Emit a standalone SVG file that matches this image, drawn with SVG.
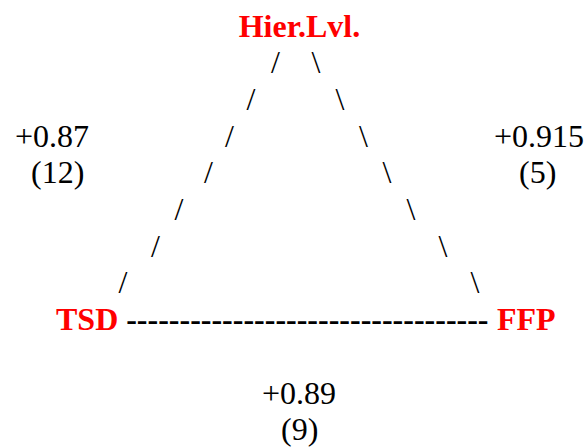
<svg xmlns="http://www.w3.org/2000/svg" width="587" height="447" viewBox="0 0 587 447">
<style>
text{font-family:"Liberation Serif","Times New Roman",serif;font-size:32px;fill:#000}
.node{font-weight:bold;fill:#ff0000}
.sl{text-anchor:middle}
.dash{font-weight:bold}
</style>
<rect width="587" height="447" fill="#fff"/>
<g id="node-hier"><text class="node" x="238.7" y="36.5">Hier.Lvl.</text></g>
<g id="node-tsd"><text class="node" x="56" y="330.1">TSD</text></g>
<g id="node-ffp"><text class="node" x="497" y="330.1">FFP</text></g>
<g id="connectors">
<g id="edge-hier-tsd">
<text class="sl" x="275.5" y="73.2">/</text>
<text class="sl" x="251" y="109.9">/</text>
<text class="sl" x="229.5" y="146.6">/</text>
<text class="sl" x="208.5" y="183.3">/</text>
<text class="sl" x="179" y="220">/</text>
<text class="sl" x="155.5" y="256.7">/</text>
<text class="sl" x="123" y="293.4">/</text>
</g>
<g id="edge-hier-ffp">
<text class="sl" x="316" y="73.2">\</text>
<text class="sl" x="340" y="109.9">\</text>
<text class="sl" x="363.5" y="146.6">\</text>
<text class="sl" x="387" y="183.3">\</text>
<text class="sl" x="411" y="220">\</text>
<text class="sl" x="443" y="256.7">\</text>
<text class="sl" x="475" y="293.4">\</text>
</g>
<g id="edge-tsd-ffp">
<text class="dash" x="126.2" y="330.1">----------------------------------</text>
</g>
</g>
<g id="labels">
<text x="15" y="146.6">+0.87</text>
<text x="31" y="183.3">(12)</text>
<text x="494" y="146.6">+0.915</text>
<text x="519" y="183.3">(5)</text>
<text x="262" y="403.5">+0.89</text>
<text x="281" y="440.2">(9)</text>
</g>
</svg>
